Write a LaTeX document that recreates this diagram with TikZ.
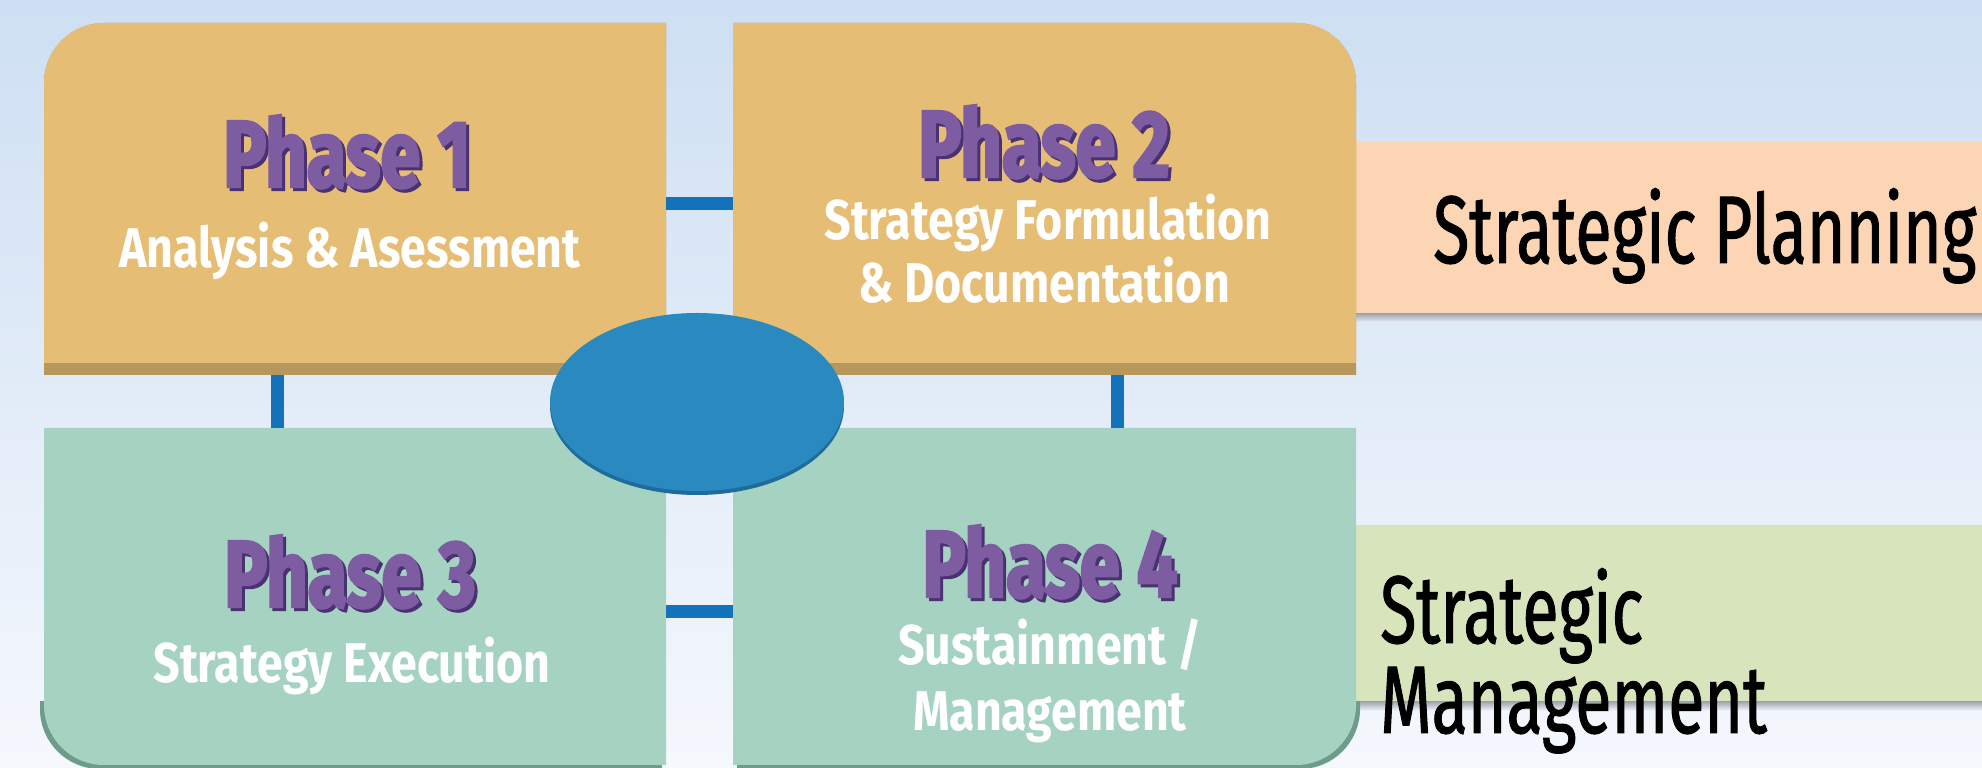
\documentclass[tikz,border=0pt]{standalone}
\usepackage{fontspec}
\usetikzlibrary{shapes.geometric}
\newfontfamily\phasefont[FakeStretch=0.76,FakeBold=2.5]{Fira Sans}
\newfontfamily\subfont[FakeStretch=0.83]{Fira Sans}
\newfontfamily\bandfont[FakeStretch=0.69,FakeBold=1]{Fira Sans}
\definecolor{bgtop}{HTML}{CEDFF3}
\definecolor{bgbot}{HTML}{F5F8FD}
\definecolor{ochre}{HTML}{E6BD74}
\definecolor{ochredark}{HTML}{B8975B}
\definecolor{mint}{HTML}{A6D3C1}
\definecolor{mintdark}{HTML}{6F9B8B}
\definecolor{linkblue}{HTML}{1472BA}
\definecolor{hubblue}{HTML}{2A8ABF}
\definecolor{hubrim}{HTML}{1E6B9C}
\definecolor{violet}{HTML}{7E5CA2}
\definecolor{violetdark}{HTML}{4A3272}
\definecolor{planfill}{HTML}{FCD5B4}
\definecolor{mgmtfill}{HTML}{D8E4BC}
\definecolor{bandshade}{HTML}{98A0AA}
\begin{document}
\begin{tikzpicture}[x=1pt,y=1pt,
  frame/.style={inner sep=0pt,outer sep=0pt,draw=none,minimum width=622pt},
  link/.style={line width=13pt,draw=linkblue},
  title/.style={inner sep=0pt,font=\phasefont\bfseries\fontsize{95}{95}\selectfont,text=violet},
  titleshadow/.style={title,text=violetdark},
  subtitle/.style={inner sep=0pt,font=\subfont\bfseries\fontsize{56}{56}\selectfont,text=white},
  bandtext/.style={inner sep=0pt,font=\bandfont\fontsize{96}{96}\selectfont,text=black}]
\useasboundingbox (0,0) rectangle (1982,768);
% background
\shade[top color=bgtop,bottom color=bgbot] (0,0) rectangle (1982,768);

% side bands
\shade[top color=bandshade,bottom color=bgbot!80!bgtop] (1356,445) rectangle (1982,455);
\fill[planfill] (1356,455) rectangle (1982,626);
\shade[top color=bandshade,bottom color=bgbot] (1356,57) rectangle (1982,67);
\fill[mgmtfill] (1356,67) rectangle (1982,243);

% phase boxes
\node[frame,minimum height=352pt,anchor=south west] (b1) at (44,393) {};
\node[frame,minimum height=352pt,minimum width=623pt,anchor=south west] (b2) at (733,393) {};
\node[frame,minimum height=337pt,anchor=south west] (b3) at (44,3) {};
\node[frame,minimum height=337pt,minimum width=623pt,anchor=south west] (b4) at (733,3) {};

\fill[ochredark] (44,393) -- (44,685) arc[start angle=180,end angle=90,radius=60] -- (666,745) -- (666,393) -- cycle;
\fill[ochre] (44,405) -- (44,685) arc[start angle=180,end angle=90,radius=60] -- (666,745) -- (666,405) -- cycle;
\fill[ochredark] (733,393) -- (733,745) -- (1296,745) arc[start angle=90,end angle=0,radius=60] -- (1356,393) -- cycle;
\fill[ochre] (733,405) -- (733,745) -- (1296,745) arc[start angle=90,end angle=0,radius=60] -- (1356,405) -- cycle;

% the green boxes cast a shadow only around their rounded corner
\begin{scope}
  \clip (0,-10) rectangle (700,66);
  \fill[mintdark,shift={(-4,-4)}] (44,340) -- (44,63) arc[start angle=180,end angle=270,radius=60] -- (666,3) -- (666,340) -- cycle;
\end{scope}
\fill[mint] (44,340) -- (44,63) arc[start angle=180,end angle=270,radius=60] -- (666,3) -- (666,340) -- cycle;
\begin{scope}
  \clip (720,-10) rectangle (1400,66);
  \fill[mintdark,shift={(4,-4)}] (733,340) -- (733,3) -- (1296,3) arc[start angle=270,end angle=360,radius=60] -- (1356,340) -- cycle;
\end{scope}
\fill[mint] (733,340) -- (733,3) -- (1296,3) arc[start angle=270,end angle=360,radius=60] -- (1356,340) -- cycle;

% connectors between the phases
\coordinate (rowtop) at (0,564);
\coordinate (rowbot) at (0,156);
\coordinate (colleft) at (277,0);
\coordinate (colright) at (1117,0);
\draw[link] (b1.east |- rowtop) -- (b2.west |- rowtop);
\draw[link] (b3.east |- rowbot) -- (b4.west |- rowbot);
\draw[link] (b1.south -| colleft) -- (b3.north -| colleft);
\draw[link] (b2.south -| colright) -- (b4.north -| colright);

% central hub
\fill[hubrim] (697,362) ellipse[x radius=147,y radius=89];
\node[ellipse,fill=hubblue,inner sep=0pt,minimum width=294pt,minimum height=178pt] (hub) at (697,366) {};

% phase labels
\node[titleshadow,anchor=base] (t1s) at (350,578) {Phase 1};
\node[title,anchor=base] (t1) at (347,581) {Phase 1};
\node[subtitle,anchor=base] (s1) at (350,500) {Analysis \& Asessment};

\node[titleshadow,anchor=base] (t2s) at (1047,588) {Phase 2};
\node[title,anchor=base] (t2) at (1044,591) {Phase 2};
\node[subtitle,anchor=base] (s2a) at (1048,528) {Strategy Formulation};
\node[subtitle,anchor=base] (s2b) at (1044,465) {\& Documentation};

\node[titleshadow,anchor=base] (t3s) at (353,158) {Phase 3};
\node[title,anchor=base] (t3) at (350,161) {Phase 3};
\node[subtitle,anchor=base] (s3) at (352,85) {Strategy Execution};

\node[titleshadow,anchor=base] (t4s) at (1053,168) {Phase 4};
\node[title,anchor=base] (t4) at (1050,171) {Phase 4};
\node[subtitle,anchor=base] (s4a) at (1050,103) {Sustainment /};
\node[subtitle,anchor=base] (s4b) at (1050,37) {Management};

% band labels
\node[bandtext,anchor=base west] (plan) at (1433,505) {Strategic Planning};
\node[bandtext,anchor=base west] (mgmt1) at (1380,125) {Strategic};
\node[bandtext,anchor=base west] (mgmt2) at (1380,35) {Management};
\end{tikzpicture}
\end{document}
